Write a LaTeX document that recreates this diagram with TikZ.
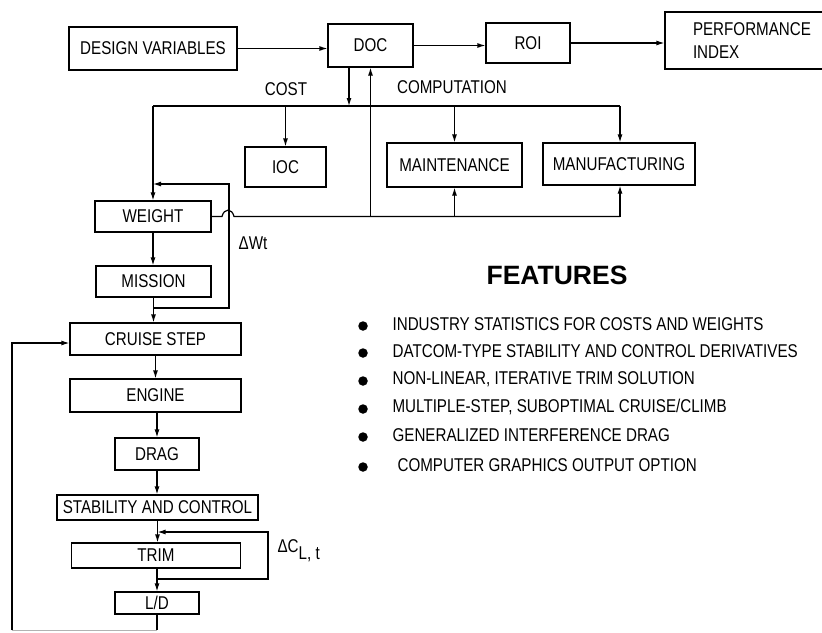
\documentclass[tikz,border=0pt]{standalone}
\usepackage{fontspec}
\setmainfont{Liberation Sans}[FakeStretch=0.82]
\newfontfamily\featfont{Liberation Sans}
\usetikzlibrary{arrows.meta}
\begin{document}
\begin{tikzpicture}[x=1pt,y=-1pt, line width=1.2pt,
  box/.style={draw, inner sep=0pt, font=\fontsize{18.5}{23}\selectfont},
  arr/.style={-{Latex[length=8pt,width=5pt]}},
  lbl/.style={font=\fontsize{18.5}{23}\selectfont, inner sep=0pt},
  bullet/.style={circle, fill, inner sep=0pt, minimum size=9.5pt}]
\useasboundingbox (0,0) rectangle (822,632);
% top row
\node[box, minimum width=168pt, minimum height=43pt] (dv) at (153,48.5) {DESIGN VARIABLES};
\node[box, minimum width=85pt, minimum height=43pt] (doc) at (370.5,45.5) {DOC};
\node[box, minimum width=84pt, minimum height=40pt] (roi) at (528,43) {ROI};
\node[box, text width=109pt, inner xsep=28pt, minimum height=57pt, align=left] (pi) at (747.5,40.5) {PERFORMANCE\\INDEX};
% cost boxes
\node[box, minimum width=81pt, minimum height=40pt] (ioc) at (285.5,167) {IOC};
\node[box, minimum width=135pt, minimum height=44pt] (maint) at (454.5,165) {MAINTENANCE};
\node[box, minimum width=152pt, minimum height=42pt] (manuf) at (619,164) {MANUFACTURING};
% chain
\node[box, minimum width=116pt, minimum height=31pt] (weight) at (153,216.5) {WEIGHT};
\node[box, minimum width=115pt, minimum height=31pt] (mission) at (153.5,281.5) {MISSION};
\node[box, minimum width=171pt, minimum height=32pt] (cruise) at (155.5,339) {CRUISE STEP};
\node[box, minimum width=171pt, minimum height=33pt] (engine) at (155.5,395.5) {ENGINE};
\node[box, minimum width=84pt, minimum height=32pt] (drag) at (157,454) {DRAG};
\node[box, minimum width=201pt, minimum height=25pt] (stab) at (157.5,507.5) {STABILITY AND CONTROL};
\node[box, minimum width=169pt, minimum height=25pt] (trim) at (156,555.5) {TRIM};
\node[box, minimum width=84pt, minimum height=22pt] (ld) at (157,603) {L/D};
% labels
\node[lbl] (cost) at (286,89) {COST};
\node[lbl] (comp) at (452,87) {COMPUTATION};
\node[lbl] (dwt) at (253,243) {ΔWt};
\node[lbl, anchor=west] (dcl) at (277,551) {ΔC\raisebox{-0.7ex}{L, t}};
% top arrows
\draw[arr] (dv.east) -- (doc.west |- dv.east);
\draw[arr] (doc.east) -- (roi.west |- doc.east);
\draw[arr] (roi.east) -- (pi.west |- roi.east);
% cost bus
\coordinate (busL) at (153,106);
\coordinate (busR) at (620,106);
\draw (busL) -- (busR);
\draw[arr] (doc.south -| 349,0) -- (busL -| 349,0);
\draw[arr] (busL) -- (weight.north);
\draw[arr] (busL -| ioc.north) -- (ioc.north);
\draw[arr] (busL -| maint.north) -- (maint.north);
\draw[arr] (busR) -- (busR |- manuf.north);
% lower bus
\coordinate (lbus) at (620,216.5);
\draw (weight.east) -- (222,216.5) .. controls (224,208) and (232,208) .. (234,216.5) -- (lbus);
\draw[arr] (doc.south |- lbus) -- (doc.south);
\draw[arr] (maint.south |- lbus) -- (maint.south);
\draw[arr] (lbus) -- (lbus |- manuf.south);
% chain arrows
\draw[arr] (weight.south) -- (weight.south |- mission.north);
\draw[arr] (mission.south) -- (mission.south |- cruise.north);
\draw[arr] (cruise.south) -- (cruise.south |- engine.north);
\draw[arr] (engine.south -| drag.north) -- (drag.north);
\draw[arr] (drag.south) -- (drag.south |- stab.north);
\draw[arr] (stab.south) -- (stab.south |- trim.north);
\draw[arr] (trim.south -| ld.north) -- (ld.north);
% weight loop
\coordinate (wlA) at (229,308);
\coordinate (wlB) at (229,184);
\draw[arr] (mission.south |- wlA) -- (wlA) -- (wlB) -- (weight.north |- wlB);
% trim loop
\coordinate (tA) at (268,579);
\coordinate (tB) at (268,532);
\draw[arr] (ld.north |- tA) -- (tA) -- (tB) -- (stab.south |- tB);
% left loop
\coordinate (llB) at (12,630);
\coordinate (llC) at (12,343);
\draw (ld.south) -- (ld.south |- llB);
\draw[gray!60, line width=1pt] (ld.south |- llB) -- (llB);
\draw[arr] (llB) -- (llC) -- (cruise.west |- llC);
% features
\node[font=\featfont\bfseries\fontsize{26.5}{30}\selectfont, inner sep=0pt] (feat) at (557,275) {FEATURES};
\node[bullet] (b1) at (363,326) {};
\node[bullet] (b2) at (363,353) {};
\node[bullet] (b3) at (363,381) {};
\node[bullet] (b4) at (363,409) {};
\node[bullet] (b5) at (363,437) {};
\node[bullet] (b6) at (363,467) {};
\node[lbl, anchor=west] (f1) at (392,324) {INDUSTRY STATISTICS FOR COSTS AND WEIGHTS};
\node[lbl, anchor=west] (f2) at (392,351) {DATCOM-TYPE STABILITY AND CONTROL DERIVATIVES};
\node[lbl, anchor=west] (f3) at (392,379) {NON-LINEAR, ITERATIVE TRIM SOLUTION};
\node[lbl, anchor=west] (f4) at (392,407) {MULTIPLE-STEP, SUBOPTIMAL CRUISE/CLIMB};
\node[lbl, anchor=west] (f5) at (392,435) {GENERALIZED INTERFERENCE DRAG};
\node[lbl, anchor=west] (f6) at (397,465) {COMPUTER GRAPHICS OUTPUT OPTION};
\end{tikzpicture}
\end{document}
